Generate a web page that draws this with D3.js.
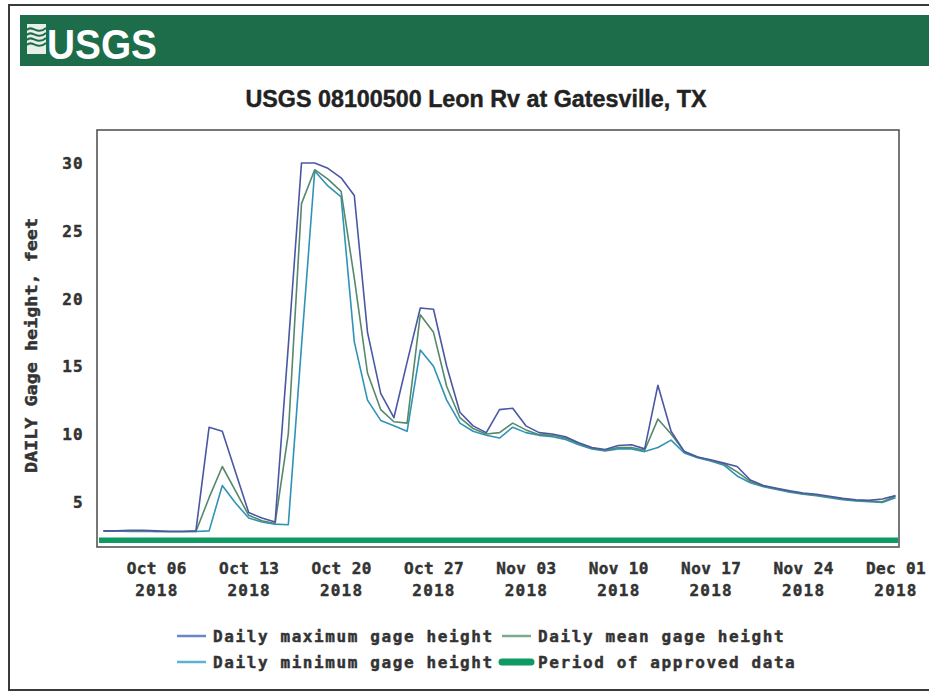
<!DOCTYPE html>
<html>
<head>
<meta charset="utf-8">
<script src="https://cdn.jsdelivr.net/npm/d3@7"></script>
<style>
  html, body { margin: 0; padding: 0; background: #fff; }
  svg { display: block; }
  .mono { font-family: "DejaVu Sans Mono", "Liberation Mono", monospace; font-weight: bold; fill: #333;
          stroke: #333; stroke-width: 0.45px; paint-order: stroke; }
</style>
</head>
<body>
<svg id="chart" width="929" height="696"></svg>
<script>
// ---------------- DATA ----------------
const startDate = "2018-10-02";   // first daily value
const dailyMax = [2.85,2.85,2.9,2.9,2.85,2.8,2.8,2.85,10.5,10.2,
  7.2,4.2,3.8,3.5,16.5,30.0,30.0,29.6,28.9,27.6,
  17.5,13.0,11.2,15.3,19.3,19.2,15.0,11.6,10.6,10.1,
  11.8,11.9,10.6,10.1,10.0,9.8,9.35,9.0,8.85,9.15,
  9.2,8.9,13.6,10.2,8.7,8.3,8.1,7.85,7.6,6.6,
  6.2,6.0,5.8,5.65,5.55,5.4,5.25,5.15,5.1,5.2,5.45];
const dailyMean = [2.85,2.85,2.85,2.85,2.8,2.8,2.8,2.8,5.3,7.6,
  5.8,4.0,3.6,3.4,10.0,27.0,29.5,28.8,27.9,21.5,
  14.5,11.8,10.9,10.8,18.8,17.5,13.5,11.2,10.4,10.0,
  10.1,10.8,10.3,9.95,9.9,9.7,9.3,8.95,8.8,9.0,
  9.0,8.8,11.1,10.0,8.7,8.3,8.05,7.8,7.2,6.5,
  6.15,5.95,5.75,5.6,5.5,5.35,5.2,5.1,5.05,5.0,5.4];
const dailyMin = [2.85,2.85,2.8,2.8,2.8,2.8,2.8,2.8,2.85,6.2,
  4.9,3.8,3.5,3.35,3.3,16.5,29.4,28.3,27.5,16.8,
  12.5,11.0,10.6,10.2,16.2,15.0,12.5,10.8,10.2,9.9,
  9.7,10.5,10.1,9.9,9.8,9.6,9.2,8.9,8.75,8.9,
  8.9,8.7,9.0,9.55,8.6,8.25,8.0,7.7,6.9,6.4,
  6.1,5.9,5.7,5.55,5.45,5.3,5.15,5.05,5.0,4.95,5.3];
const yTicks = [5, 10, 15, 20, 25, 30];
const xTickDates = ["2018-10-06","2018-10-13","2018-10-20","2018-10-27","2018-11-03",
  "2018-11-10","2018-11-17","2018-11-24","2018-12-01"];
const approvedPeriod = ["2018-10-01", "2018-12-03"];
const titleText = "USGS 08100500 Leon Rv at Gatesville, TX";
const yLabel = "DAILY Gage height, feet";
const legendItems = [
  {label: "Daily maximum gage height", key: "max"},
  {label: "Daily mean gage height", key: "mean"},
  {label: "Daily minimum gage height", key: "min"},
  {label: "Period of approved data", key: "approved"}
];

// ---------------- SETUP ----------------
const parse = d3.utcParse("%Y-%m-%d");
const t0 = parse(startDate);
const dates = dailyMax.map((_, i) => d3.utcDay.offset(t0, i));

const colors = { max: "#4a58a4", mean: "#55896b", min: "#2f93b8", approved: "#0e9a62" };
const legendColors = { max: "#6a86c4", mean: "#77ad8d", min: "#5cb2d2", approved: "#0e9a62" };

const svg = d3.select("#chart");
const plot = { left: 97, right: 899, top: 130, bottom: 547 };

const x = d3.scaleUtc()
  .domain([parse("2018-10-02"), parse("2018-12-01")])
  .range([103.5, 895.5]);
const y = d3.scaleLinear().domain([1.66, 32.43]).range([plot.bottom, plot.top]);

// ---------------- FRAME & HEADER ----------------
svg.append("rect").attr("x", 9).attr("y", 5).attr("width", 940).attr("height", 685)
  .attr("fill", "none").attr("stroke", "#3a3a3a").attr("stroke-width", 2);
svg.append("rect").attr("x", 20).attr("y", 15).attr("width", 920).attr("height", 51)
  .attr("fill", "#1d6d4b");
// logo glyph
const logo = svg.append("g").attr("transform", "translate(27,24)");
logo.append("rect").attr("width", 19).attr("height", 30).attr("fill", "#e8efe9");
[6, 11, 16, 21].forEach((yy) => {
  logo.append("path")
    .attr("d", `M0,${yy} C5,${yy - 6} 10,${yy + 6} 19,${yy - 2}`)
    .attr("fill", "none").attr("stroke", "#1d6d4b").attr("stroke-width", 2);
});
svg.append("text").attr("x", 47).attr("y", 59)
  .attr("font-family", "Liberation Sans Narrow, Liberation Sans, Arial, sans-serif")
  .attr("font-weight", "bold").attr("font-size", 42).attr("fill", "#fff")
  .attr("textLength", 110).attr("lengthAdjust", "spacingAndGlyphs")
  .text("USGS");

svg.append("text").attr("x", 476).attr("y", 107).attr("text-anchor", "middle")
  .attr("font-family", "Liberation Sans Narrow, Liberation Sans, Arial, sans-serif")
  .attr("font-weight", "bold").attr("font-size", 23).attr("fill", "#222")
  .attr("stroke", "#222").attr("stroke-width", 0.4)
  .attr("textLength", 461).attr("lengthAdjust", "spacingAndGlyphs")
  .text(titleText);

// ---------------- PLOT ----------------
svg.append("rect").attr("x", plot.left).attr("y", plot.top)
  .attr("width", plot.right - plot.left).attr("height", plot.bottom - plot.top)
  .attr("fill", "#fff").attr("stroke", "#555").attr("stroke-width", 1.6);

// approved period bar
const ap0 = Math.max(plot.left + 2, x(parse(approvedPeriod[0])));
const ap1 = Math.min(plot.right - 1, x(parse(approvedPeriod[1])));
svg.append("rect").attr("x", ap0).attr("y", 537.5).attr("width", ap1 - ap0).attr("height", 5.5)
  .attr("fill", colors.approved);

const line = d3.line().x((d, i) => x(dates[i])).y(d => y(d));
const series = [
  {key: "min", values: dailyMin},
  {key: "mean", values: dailyMean},
  {key: "max", values: dailyMax}
];
svg.append("g").selectAll("path").data(series).join("path")
  .attr("d", d => line(d.values))
  .attr("fill", "none")
  .attr("stroke", d => colors[d.key])
  .attr("stroke-width", 1.6)
  .attr("stroke-linejoin", "round");

// ---------------- AXES ----------------
const yAxis = svg.append("g").attr("transform", `translate(${plot.left},0)`)
  .call(d3.axisLeft(y).tickValues(yTicks).tickSize(0).tickPadding(13).tickFormat(d3.format("d")));
yAxis.select(".domain").remove();
yAxis.selectAll("text").attr("class", "mono").attr("font-size", 16)
  .style("letter-spacing", "1.3px")
  .attr("dy", "0.36em");

const xAxis = svg.append("g").attr("transform", `translate(0,${plot.bottom})`)
  .call(d3.axisBottom(x).tickValues(xTickDates.map(parse)).tickSize(0).tickPadding(0)
    .tickFormat(d3.utcFormat("%b %d")));
xAxis.select(".domain").remove();
xAxis.selectAll("text").attr("class", "mono").attr("font-size", 16).attr("dy", null)
  .attr("y", 27)
  .each(function(d) {
    const t = d3.select(this);
    const label = t.text();
    t.text(null);
    t.append("tspan").attr("x", 0).attr("y", 27).style("letter-spacing", "0.4px").text(label);
    t.append("tspan").attr("x", 0).attr("y", 49).style("letter-spacing", "1.2px")
      .text(d3.utcFormat("%Y")(d));
  });

svg.append("text").attr("class", "mono")
  .attr("transform", "translate(37,345.5) rotate(-90)")
  .attr("text-anchor", "middle").attr("font-size", 16)
  .attr("textLength", 255).attr("lengthAdjust", "spacingAndGlyphs")
  .text(yLabel);

// ---------------- LEGEND ----------------
const legendPos = [
  {x: 177, y: 636}, {x: 502, y: 636}, {x: 177, y: 662}, {x: 502, y: 662}
];
const lg = svg.append("g").selectAll("g").data(legendItems).join("g")
  .attr("transform", (d, i) => `translate(${legendPos[i].x},${legendPos[i].y})`);
lg.append("line").attr("x1", 0).attr("x2", 29).attr("y1", 0).attr("y2", 0)
  .attr("stroke", d => legendColors[d.key])
  .attr("stroke-width", d => d.key === "approved" ? 7 : 2.5)
  .attr("stroke-linecap", d => d.key === "approved" ? "round" : "butt");
lg.append("text").attr("class", "mono").attr("x", 36).attr("y", 0).attr("dy", "0.36em")
  .attr("font-size", 16).style("letter-spacing", "1.6px")
  .text(d => d.label);
</script>
</body>
</html>
